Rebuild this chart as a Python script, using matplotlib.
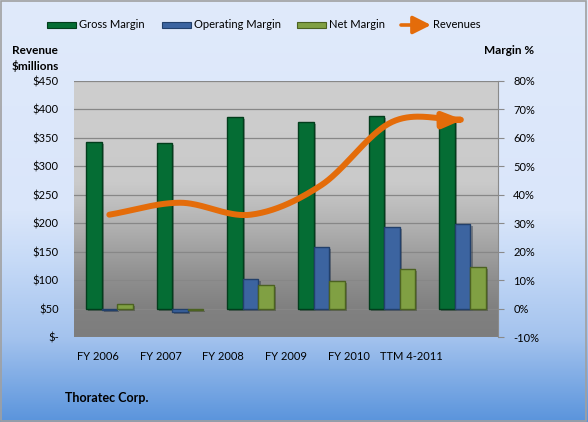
import numpy as np
import matplotlib
matplotlib.use("Agg")
import matplotlib.pyplot as plt
import matplotlib.patches as mpatches
import matplotlib.patheffects as pe
from matplotlib.path import Path
from matplotlib.colors import to_rgb

# ---------------- data ----------------
categories = ['FY 2006', 'FY 2007', 'FY 2008', 'FY 2009', 'FY 2010', 'TTM 4-2011']
gross_margin = [58.5, 58.1, 67.3, 65.7, 67.6, 66.3]          # %
operating_margin = [-0.5, -1.2, 10.3, 21.8, 28.6, 29.6]      # %
net_margin = [1.5, -0.5, 8.3, 9.8, 13.8, 14.5]               # %
revenues = [215, 236, 215, 267, 378, 382]                    # $ millions

rev_ticks = [0, 50, 100, 150, 200, 250, 300, 350, 400, 450]
rev_ticklabels = ['$-', '$50', '$100', '$150', '$200', '$250', '$300', '$350', '$400', '$450']
margin_ticks = [-10, 0, 10, 20, 30, 40, 50, 60, 70, 80]
margin_ticklabels = ['-10%', '0%', '10%', '20%', '30%', '40%', '50%', '60%', '70%', '80%']
legend_labels = ['Gross Margin', 'Operating Margin', 'Net Margin', 'Revenues']

# ---------------- style ----------------
plt.rcParams['font.family'] = ['Lato', 'DejaVu Sans']
W, H = 588, 422
fig = plt.figure(figsize=(W / 100, H / 100), dpi=100)

C_GROSS, E_GROSS = '#056d34', '#023d1c'
C_OPER, E_OPER = '#3c64a0', '#22406b'
C_NET, E_NET = '#80a043', '#4c6221'
C_REV = '#e46c0a'


def fx(px):
    return px / W


def fy(py):
    return 1 - py / H


def vgrad(stops, n=400):
    pos = [s[0] for s in stops]
    cols = np.array([to_rgb(s[1]) for s in stops])
    t = np.linspace(0, 1, n)
    arr = np.stack([np.interp(t, pos, cols[:, k]) for k in range(3)], axis=1)
    return arr[:, None, :]


# figure background gradient (top -> bottom)
bg = fig.add_axes([0, 0, 1, 1], zorder=-10)
bg.imshow(vgrad([(0, '#e0eafb'), (0.5, '#dae6fa'), (0.62, '#c6daf7'),
                 (0.8, '#a4c3ee'), (1.0, '#5a94dc')]),
          aspect='auto', extent=[0, 1, 0, 1], origin='upper')
bg.set_axis_off()

# plot area rect
x0, x1, y0, y1 = 74, 498, 81, 337
rect = [fx(x0), fy(y1), (x1 - x0) / W, (y1 - y0) / H]

pbg = fig.add_axes(rect, zorder=-5)
pbg.imshow(vgrad([(0, '#cecece'), (0.4, '#cacaca'), (0.55, '#b4b4b4'),
                  (0.75, '#929292'), (0.88, '#818181'), (1.0, '#7d7d7d')]),
           aspect='auto', extent=[0, 1, 0, 1], origin='upper')
pbg.set_axis_off()

axL = fig.add_axes(rect)
axR = axL.twinx()
axR.set_zorder(1)
axL.set_zorder(2)
axL.patch.set_visible(False)
axR.patch.set_visible(False)

n = len(categories)
xs = np.arange(n)
bw = 0.22

axR.set_ylim(-10, 80)
axL.set_ylim(0, 450)
axL.set_xlim(-0.5, n - 0.5)

# bars
shadow = [pe.SimplePatchShadow(offset=(1.5, -1.5), alpha=0.35), pe.Normal()]
for vals, off, fc, ec in [(gross_margin, -bw, C_GROSS, E_GROSS),
                          (operating_margin, 0, C_OPER, E_OPER),
                          (net_margin, bw, C_NET, E_NET)]:
    bars = axR.bar(xs + off, vals, width=bw, color=fc, edgecolor=ec, linewidth=1.0, zorder=3)
    for b in bars:
        b.set_path_effects(shadow)

# gridlines
axR.set_yticks(margin_ticks)
axR.set_yticklabels(margin_ticklabels)
axR.yaxis.grid(True, color='#878787', linewidth=0.9)
axR.set_axisbelow(True)

for s in ['top', 'left', 'bottom']:
    axR.spines[s].set_visible(False)
    axL.spines[s].set_visible(False)
axL.spines['right'].set_visible(False)
axR.spines['right'].set_color('#8a8a8a')
axR.tick_params(axis='y', direction='out', length=4, color='#8a8a8a', pad=7,
                labelsize=8, labelcolor='black')

axL.set_yticks(rev_ticks)
axL.set_yticklabels(rev_ticklabels)
axL.tick_params(axis='y', length=0, pad=11, labelsize=8, labelcolor='black')

# category labels (Excel places them along a slightly shorter axis)
label_pos = -0.16 + 0.886 * np.arange(n)
axL.set_xticks(label_pos)
axL.set_xticklabels(categories)
axL.tick_params(axis='x', length=0, pad=10, labelsize=8)

# smooth revenue line (Bezier smoothing like Excel)
pts = np.column_stack([xs.astype(float), np.array(revenues, float)])
tang = np.zeros_like(pts)
tang[1:-1] = (pts[2:] - pts[:-2]) / 2
tang[0] = pts[1] - pts[0]
tang[-1] = pts[-1] - pts[-2]
t = np.linspace(0, 1, 40)
poly = [pts[0]]
for i in range(n - 1):
    p0 = pts[i]; p3 = pts[i + 1]
    p1 = pts[i] + tang[i] / 3; p2 = pts[i + 1] - tang[i + 1] / 3
    seg = ((1 - t)[:, None] ** 3 * p0 + 3 * ((1 - t) ** 2 * t)[:, None] * p1
           + 3 * ((1 - t) * t ** 2)[:, None] * p2 + (t ** 3)[:, None] * p3)
    poly.extend(seg[1:])
poly = np.array(poly)

arrow = mpatches.FancyArrowPatch(path=Path(poly), arrowstyle='-|>,head_length=1.1,head_width=0.45',
                                 mutation_scale=10, color=C_REV, linewidth=4.3,
                                 capstyle='round', joinstyle='round', zorder=5)
axL.add_patch(arrow)

# ---------------- legend (manual, Excel-like positions) ----------------
leg_x = [47, 162, 297, 401]       # left edge of each key, px
key_w, key_h, leg_y = 29, 6, 25
leg_styles = [(C_GROSS, E_GROSS), (C_OPER, E_OPER), (C_NET, E_NET), None]
for lx, lab, sty in zip(leg_x, legend_labels, leg_styles):
    if sty is not None:
        fig.add_artist(mpatches.Rectangle((fx(lx), fy(leg_y + key_h / 2)), key_w / W, key_h / H,
                                          transform=fig.transFigure, facecolor=sty[0],
                                          edgecolor=sty[1], linewidth=0.8))
    else:
        fig.add_artist(mpatches.FancyArrowPatch((fx(lx), fy(leg_y)), (fx(lx + key_w + 1), fy(leg_y)),
                                                transform=fig.transFigure,
                                                arrowstyle='-|>,head_length=0.9,head_width=0.45',
                                                mutation_scale=12, color=C_REV, linewidth=2.6,
                                                shrinkA=0, shrinkB=0))
    fig.text(fx(lx + key_w + 3), fy(leg_y), lab, fontsize=8, va='center', ha='left')

# axis titles
fig.text(fx(12), fy(50), 'Revenue', fontsize=8.5, fontweight='bold', va='center', ha='left')
fig.text(fx(12), fy(66), '$millions', fontsize=8.5, fontweight='bold', va='center', ha='left')
fig.text(fx(484), fy(50), 'Margin %', fontsize=8.5, fontweight='bold', va='center', ha='left')
fig.text(fx(65), fy(398), 'Thoratec Corp.', fontsize=9, fontweight='bold', va='center', ha='left')

# outer border
fig.add_artist(mpatches.Rectangle((0.001, 0.003), 0.995, 0.994, transform=fig.transFigure,
                                  fill=False, edgecolor='#a0a0a0', linewidth=1.2))

fig.savefig('out.png', dpi=100)
